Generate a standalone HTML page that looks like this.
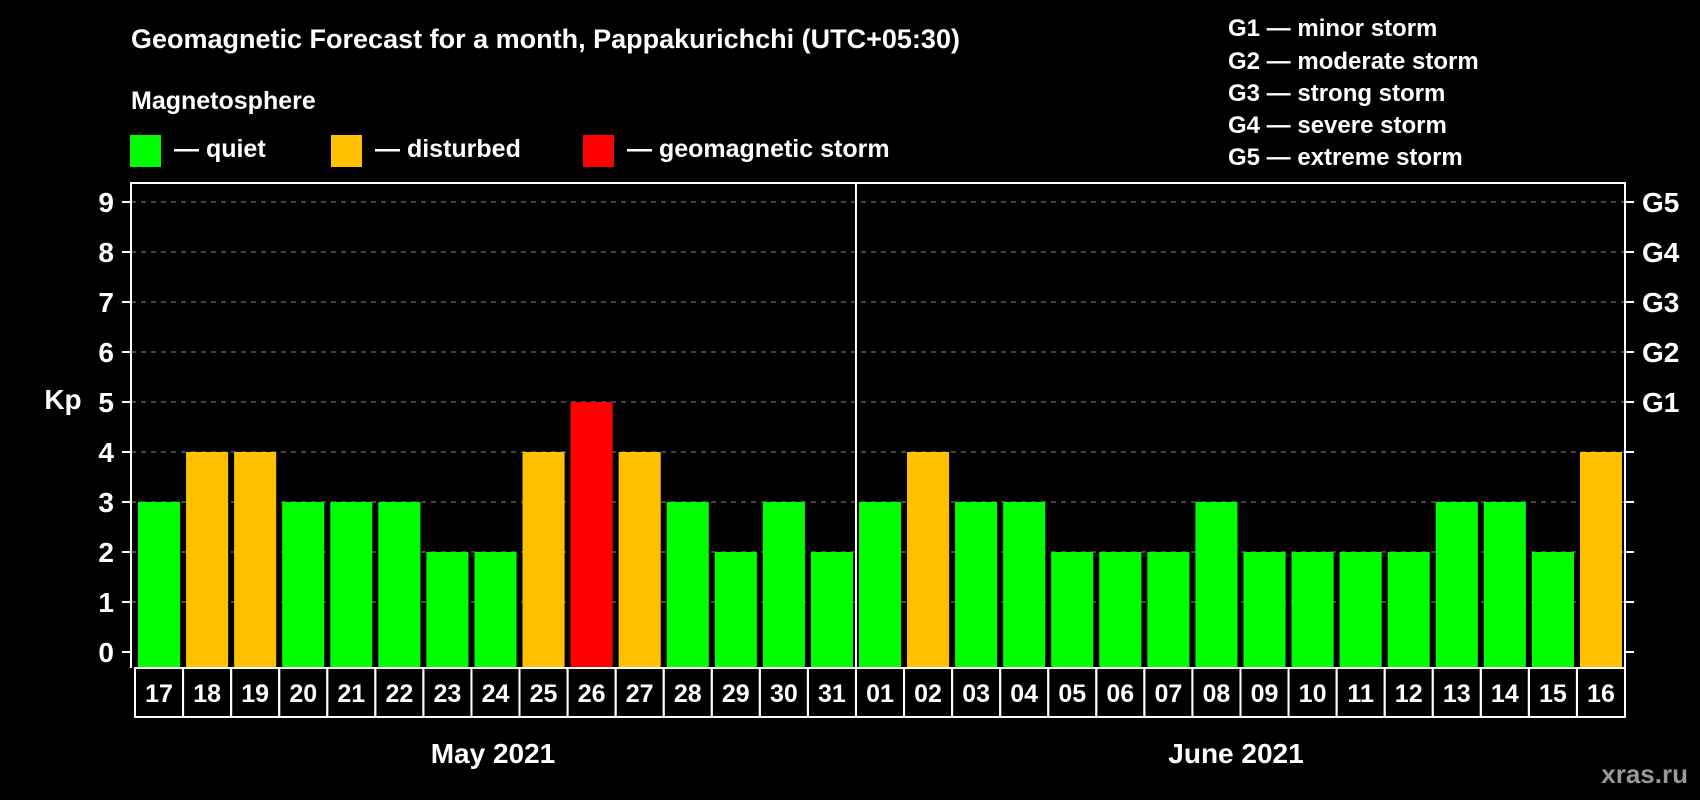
<!DOCTYPE html>
<html><head><meta charset="utf-8"><style>
html,body{margin:0;padding:0;background:#000;}
svg{display:block;font-family:"Liberation Sans",sans-serif;font-weight:bold;}
</style></head><body>
<svg id="chart" width="1700" height="800" viewBox="0 0 1700 800">
<rect width="1700" height="800" fill="#000"/>
<text x="131" y="48" fill="#fff" font-size="27">Geomagnetic Forecast for a month, Pappakurichchi (UTC+05:30)</text>
<text x="131" y="109" fill="#fff" font-size="25">Magnetosphere</text>
<g>
<rect x="130" y="135" width="31" height="32" fill="#00ff00"/>
<text x="174" y="157" fill="#fff" font-size="25">— quiet</text></g>
<g>
<rect x="331" y="135" width="31" height="32" fill="#ffc000"/>
<text x="375" y="157" fill="#fff" font-size="25">— disturbed</text></g>
<g>
<rect x="583" y="135" width="31" height="32" fill="#ff0000"/>
<text x="627" y="157" fill="#fff" font-size="25">— geomagnetic storm</text></g>
<g fill="#fff" font-size="24">
<text x="1228" y="36">G1 — minor storm</text>
<text x="1228" y="69">G2 — moderate storm</text>
<text x="1228" y="101">G3 — strong storm</text>
<text x="1228" y="133">G4 — severe storm</text>
<text x="1228" y="165">G5 — extreme storm</text>
</g>
<text x="63" y="409" fill="#fff" font-size="28" text-anchor="middle">Kp</text>
<text x="493" y="763" fill="#fff" font-size="28" text-anchor="middle">May 2021</text>
<text x="1236" y="763" fill="#fff" font-size="28" text-anchor="middle">June 2021</text>
<text x="1688" y="783" fill="#999" font-size="26" text-anchor="end">xras.ru</text>
<g id="plot"></g>
</svg>
<script>
const days = ["17","18","19","20","21","22","23","24","25","26","27","28","29","30","31","01","02","03","04","05","06","07","08","09","10","11","12","13","14","15","16"];
const kpValues = [3,4,4,3,3,3,2,2,4,5,4,3,2,3,2,3,4,3,3,2,2,2,3,2,2,2,2,3,3,2,4];
const yTicks = [0,1,2,3,4,5,6,7,8,9];
const gLabels = ["G1","G2","G3","G4","G5"];
const gLevels = [5,6,7,8,9];
const monthSplitIndex = 15;

const NS = "http://www.w3.org/2000/svg";
const plot = document.getElementById("plot");
const L = 131, R = 1625, T = 183, B = 668, X0 = 135;
const slot = (R - X0) / days.length;
const y = v => 652 - v * 50;
const x = i => X0 + i * slot;
function mk(tag, attrs) { const e = document.createElementNS(NS, tag); for (const k in attrs) e.setAttribute(k, attrs[k]); plot.appendChild(e); return e; }
function color(v) { return v >= 5 ? "#ff0000" : (v >= 4 ? "#ffc000" : "#00ff00"); }

yTicks.forEach(t => {
  if (t > 0) {
    const g = mk("line", {x1: L, x2: R, y1: y(t), y2: y(t), stroke: "#888", "stroke-width": 1, "stroke-dasharray": "5,5"});
    
    
  }
  const tk = mk("line", {x1: 122, x2: L, y1: y(t), y2: y(t), stroke: "#fff", "stroke-width": 2});
  
  
  const tr = mk("line", {x1: R, x2: R + 9, y1: y(t), y2: y(t), stroke: "#fff", "stroke-width": 2});
  
  
  const lb = mk("text", {x: 114, y: y(t) + 10, fill: "#fff", "font-size": 28, "text-anchor": "end"});
  lb.textContent = t;
  
  
});
gLabels.forEach((g, i) => {
  const t = mk("text", {x: 1642, y: y(gLevels[i]) + 10, fill: "#fff", "font-size": 28});
  t.textContent = g;
  
  
});
kpValues.forEach((v, i) => {
  const b = mk("rect", {x: x(i) + 3, y: y(v), width: slot - 6, height: y(0) - y(v) + 16, fill: color(v)});
  
  
  const c = mk("rect", {x: x(i), y: B, width: slot, height: 49, fill: "none", stroke: "#fff", "stroke-width": 2});
  
  
  const d = mk("text", {x: x(i) + slot / 2, y: B + 34, fill: "#fff", "font-size": 25, "text-anchor": "middle"});
  d.textContent = days[i];
  
  
});
const fr = mk("path", {d: `M${L},${B} V${T} H${R} V${B}`, fill: "none", stroke: "#fff", "stroke-width": 2});


const dv = mk("line", {x1: x(monthSplitIndex), x2: x(monthSplitIndex), y1: T, y2: B, stroke: "#fff", "stroke-width": 2});


</script>
</body></html>
